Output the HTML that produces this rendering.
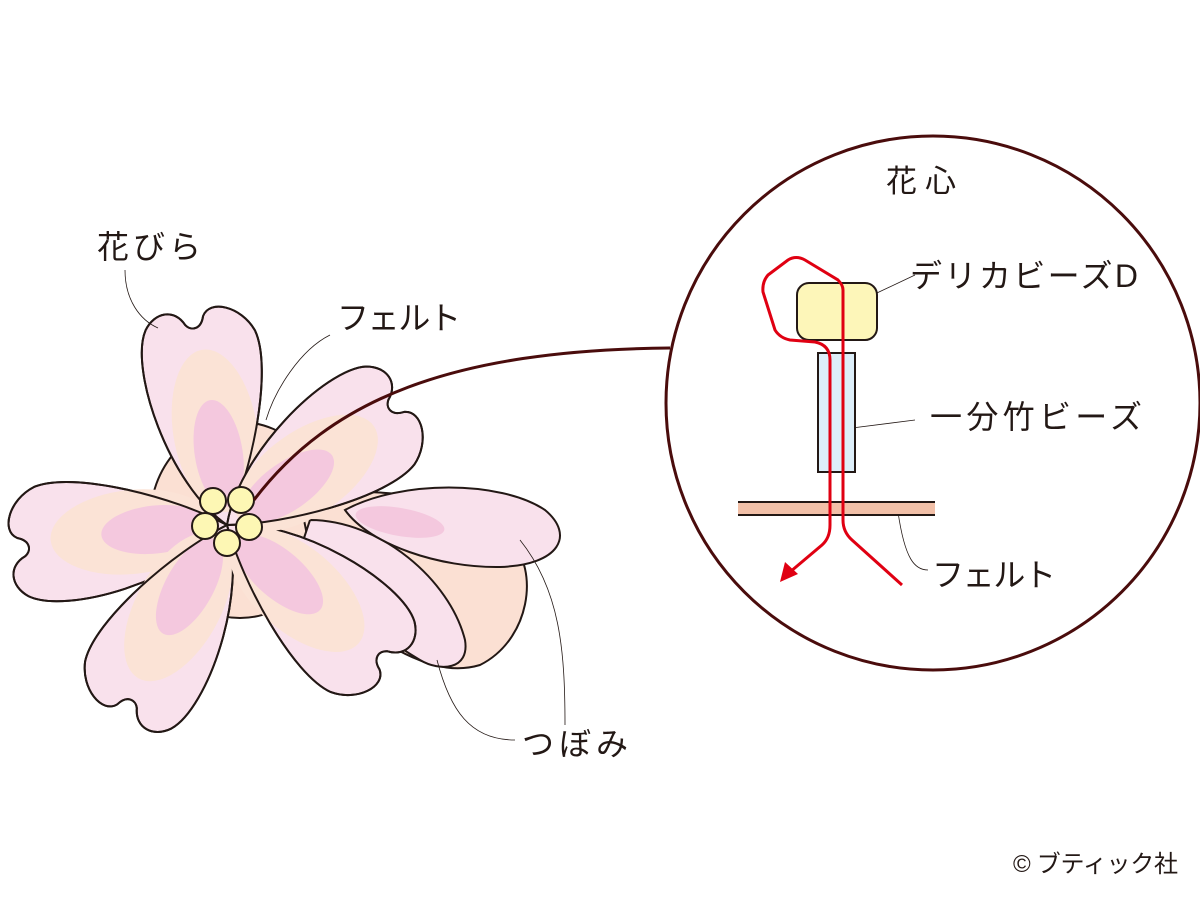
<!DOCTYPE html>
<html><head><meta charset="utf-8"><style>
html,body{margin:0;padding:0;background:#fff;}
svg{display:block}
text{font-family:"Liberation Sans","Noto Sans CJK JP",sans-serif;fill:#231815;}
</style></head><body>
<svg width="1200" height="900" viewBox="0 0 1200 900" xmlns="http://www.w3.org/2000/svg">
<defs>
<path id="pet" d="M0,0 C-52,-50 -72,-170 -50,-205 C-38,-222 -18,-222 -10,-204 C-5,-197 5,-197 9,-210 C18,-226 48,-214 58,-188 C70,-148 34,-50 0,0 Z"/>
<g id="petal">
<use href="#pet" fill="#f9e1ec" stroke="#231815" stroke-width="2"/>
<ellipse cx="3" cy="-95" rx="42" ry="82" fill="#fbe3d6"/>
<ellipse cx="3" cy="-72" rx="24" ry="54" fill="#f4c8de"/>
<use href="#pet" fill="none" stroke="#231815" stroke-width="2"/>
</g>
</defs>
<ellipse cx="240" cy="520" rx="90" ry="98" fill="#fbe0d3" stroke="#231815" stroke-width="2"/>
<path d="M300,500 C380,480 470,500 510,540 C540,570 530,640 480,665 C430,680 380,640 320,600 Z" fill="#fbe0d3" stroke="#231815" stroke-width="2"/>
<path d="M310,520 C380,520 450,580 465,640 C470,670 440,672 420,660 C370,630 320,590 300,550 Z" fill="#f9e1ec" stroke="#231815" stroke-width="2"/>
<path d="M345,510 C400,480 500,480 545,510 C575,535 560,565 500,567 C440,568 370,545 345,510 Z" fill="#f9e1ec" stroke="#231815" stroke-width="2"/>
<ellipse cx="400" cy="522" rx="45" ry="14" fill="#f4c8de" transform="rotate(10 400 522)"/>
<g transform="translate(227,525)">
<use href="#petal" transform="rotate(-96)"/>
<use href="#petal" transform="rotate(-151)"/>
<use href="#petal" transform="rotate(131)"/>
<use href="#petal" transform="rotate(-9)"/>
<use href="#petal" transform="rotate(55)"/>
</g>
<g fill="#fdf7b4" stroke="#231815" stroke-width="2">
<circle cx="213" cy="501" r="13"/><circle cx="241" cy="500" r="13"/>
<circle cx="205" cy="526" r="13"/><circle cx="249" cy="527" r="13"/>
<circle cx="227" cy="543" r="13"/>
</g>
<path d="M254,500 C330,400 450,350 670,348" fill="none" stroke="#4a0c0c" stroke-width="3"/>
<circle cx="933" cy="403" r="267" fill="#fff" stroke="#4a0c0c" stroke-width="3"/>
<g fill="none" stroke="#231815" stroke-width="0.8">
<path d="M125,270 C125,300 140,320 158,328"/>
<path d="M330,335 C300,350 275,390 266,420"/>
<path d="M515,740 C470,740 450,710 437,660"/>
<path d="M565,725 C565,650 560,590 520,540"/>
<path d="M915,275 L862,300"/>
<path d="M915,420 L852,428"/>
<path d="M928,570 C915,570 905,560 898,512"/>
</g>
<rect x="797" y="283" width="80" height="57" rx="12" fill="#fdf6b9" stroke="#231815" stroke-width="2"/>
<rect x="818" y="353" width="37" height="119" fill="#ddeef9" stroke="#231815" stroke-width="2"/>
<rect x="738" y="502" width="197" height="13" fill="#f2c0a8"/>
<line x1="738" y1="502" x2="935" y2="502" stroke="#231815" stroke-width="2"/>
<line x1="738" y1="515" x2="935" y2="515" stroke="#231815" stroke-width="2"/>
<g fill="none" stroke="#e00012" stroke-width="3">
<path d="M902,585 L852,540 Q843,532 843,520 L843,290 Q843,285 838,280 L805,260 Q796,255 788,260 L768,275 Q762,282 763,292 L775,330 Q780,338 790,340 L815,342 Q830,345 830,360 L830,525 Q830,538 822,545 L790,572"/>
</g>
<path d="M780,582 L785,562 L798,574 Z" fill="#e00012"/>
<text x="886" y="192" font-size="31" textLength="70">花心</text>
<text x="910" y="287" font-size="32" textLength="228">デリカビーズD</text>
<text x="930" y="428" font-size="32" textLength="212">一分竹ビーズ</text>
<text x="932" y="586" font-size="32" textLength="124">フェルト</text>
<text x="97" y="258" font-size="32" textLength="104">花びら</text>
<text x="337" y="329" font-size="32" textLength="124">フェルト</text>
<text x="522" y="755" font-size="32" textLength="106">つぼみ</text>
<text x="1013" y="872" font-size="24" textLength="165">© ブティック社</text>
</svg>
</body></html>
